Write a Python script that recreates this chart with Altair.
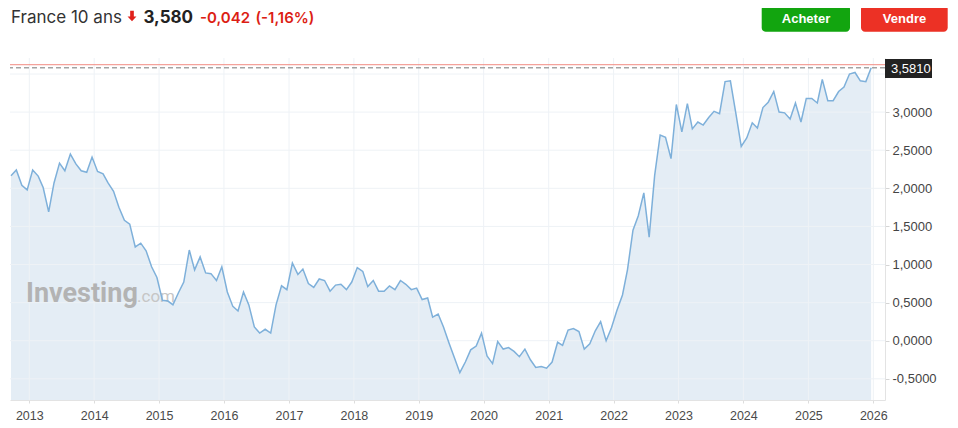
import altair as alt
import pandas as pd

# ---------------- data ----------------
first_point = pd.Timestamp("2012-09-20")   # first monthly observation
yields = [
    2.165, 2.24, 2.04, 1.98, 2.24, 2.16, 2.01, 1.69, 2.07, 2.33,
    2.23, 2.45, 2.32, 2.23, 2.21, 2.41, 2.22, 2.19, 2.07, 1.96,
    1.75, 1.58, 1.53, 1.23, 1.28, 1.18, 0.97, 0.83, 0.53, 0.52,
    0.47, 0.63, 0.77, 1.19, 0.93, 1.10, 0.89, 0.88, 0.79, 0.97,
    0.64, 0.45, 0.39, 0.64, 0.47, 0.18, 0.10, 0.15, 0.10, 0.47,
    0.72, 0.67, 1.02, 0.87, 0.94, 0.75, 0.70, 0.81, 0.79, 0.65,
    0.73, 0.74, 0.67, 0.77, 0.96, 0.91, 0.71, 0.79, 0.65, 0.65,
    0.72, 0.67, 0.79, 0.74, 0.67, 0.69, 0.54, 0.56, 0.31, 0.35,
    0.18, -0.03, -0.22, -0.42, -0.28, -0.12, -0.07, 0.10, -0.20, -0.30,
    -0.01, -0.11, -0.09, -0.14, -0.21, -0.11, -0.25, -0.35, -0.34, -0.36,
    -0.28, -0.02, -0.06, 0.14, 0.16, 0.12, -0.11, -0.04, 0.13, 0.25,
    0.00, 0.17, 0.40, 0.60, 0.93, 1.45, 1.64, 1.94, 1.36, 2.17,
    2.70, 2.67, 2.39, 3.10, 2.74, 3.11, 2.78, 2.87, 2.83, 2.93,
    3.01, 2.98, 3.40, 3.41, 2.98, 2.55, 2.66, 2.86, 2.79, 3.06,
    3.13, 3.27, 3.00, 2.99, 2.91, 3.12, 2.87, 3.18, 3.18, 3.12,
    3.43, 3.15, 3.15, 3.27, 3.33, 3.50, 3.52, 3.41, 3.40, 3.581,
]
year_ticks = list(range(2013, 2027))
y_grid = [-0.5, 0.0, 0.5, 1.0, 1.5, 2.0, 2.5, 3.0, 3.5]
y_labels = [-0.5, 0.0, 0.5, 1.0, 1.5, 2.0, 2.5, 3.0]
last_value = 3.581
prev_close = 3.622
header_name = "France 10 ans"
header_price = "3,580"
header_change = "-0,042"
header_pct = "(-1,16%)"
badge_text = "3,5810"

# ---------------- build ----------------
W, H = 875, 342
Y_MIN, Y_MAX = -0.778, 3.71
dates = [(first_point + pd.DateOffset(months=i)).strftime("%Y-%m-%d") for i in range(len(yields))]
df = pd.DataFrame({"date": dates, "value": yields})
grid_x_df = pd.DataFrame({"date": [f"{y}-01-01" for y in year_ticks]})
grid_y_df = pd.DataFrame({"value": y_grid})
one = pd.DataFrame({"k": [0]})

x_scale = alt.Scale(
    type="utc",
    domain=[alt.DateTime(year=2012, month=9, date=14, hours=10, utc=True),
            alt.DateTime(year=2026, month=3, date=7, hours=19, utc=True)],
)
y_scale = alt.Scale(domain=[Y_MIN, Y_MAX], nice=False, zero=False)

LABEL_FONT = "Liberation Sans"

x_axis = alt.Axis(
    values=[alt.DateTime(year=y, month=1, date=1, utc=True) for y in year_ticks],
    labelExpr="utcFormat(datum.value, '%Y')",
    grid=False, title=None,
    domainColor="#e3e3e3", tickColor="#dddddd", tickSize=3,
    labelFont=LABEL_FONT, labelFontSize=12.5, labelColor="#4a4a4a",
    labelPadding=6, labelFlush=False,
)
y_axis = alt.Axis(
    orient="right", values=y_labels, grid=False, title=None,
    labelExpr="(datum.value < 0 ? '-' : '') + replace(format(abs(datum.value), '.4f'), '.', ',')",
    domainColor="#e3e3e3", tickColor="#d5d5d5", tickSize=4,
    labelFont=LABEL_FONT, labelFontSize=13, labelColor="#444444", labelPadding=3,
)

X = alt.X("date:T", scale=x_scale, axis=x_axis)
Y = alt.Y("value:Q", scale=y_scale, axis=y_axis)

area = alt.Chart(df).mark_area(color="#78a5cd", opacity=0.2).encode(
    x=X, y=Y, y2=alt.datum(Y_MIN),
)

grid_h = alt.Chart(grid_y_df).mark_rule(color="#eef2f6", strokeWidth=1).encode(y=Y)
grid_v = alt.Chart(grid_x_df).mark_rule(color="#eef2f6", strokeWidth=1).encode(x=X)

watermark1 = alt.Chart(one).mark_text(
    align="left", baseline="alphabetic", font="Roboto", fontWeight="bold",
    fontSize=27, color="#b3b3b3"
).encode(x=alt.value(16), y=alt.value(243.5), text=alt.value("Investing"))
watermark2 = alt.Chart(one).mark_text(
    align="left", baseline="alphabetic", font="Roboto", fontSize=17, color="#c6c6c6"
).encode(x=alt.value(127), y=alt.value(243.5), text=alt.value(".com"))

line = alt.Chart(df).mark_line(color="#7eb0da", strokeWidth=1.5).encode(x=X, y=Y)

red_rule = alt.Chart(one).mark_rule(color="#f28b82", strokeWidth=1).encode(
    y=alt.datum(prev_close)
)
dash_rule = alt.Chart(one).mark_rule(color="#777777", strokeWidth=1, strokeDash=[5, 3]).encode(
    y=alt.datum(last_value)
)

badge = alt.Chart(one).mark_rect(color="#222222").encode(
    x=alt.value(875), x2=alt.value(922), y=alt.value(1), y2=alt.value(20)
)
badge_lbl = alt.Chart(one).mark_text(
    align="left", baseline="middle", font=LABEL_FONT, fontSize=13, color="#ffffff"
).encode(x=alt.value(881), y=alt.value(10.5), text=alt.value(badge_text))

HY = -40
t_name = alt.Chart(one).mark_text(
    align="left", baseline="middle", font="Inter", fontSize=17, color="#333333"
).encode(x=alt.value(1), y=alt.value(HY), text=alt.value(header_name))
arrow = alt.Chart(one).mark_point(
    shape="M-0.35,-1L0.35,-1L0.35,0.1L0.85,0.1L0,1L-0.85,0.1L-0.35,0.1Z",
    filled=True, color="#e0201b", size=110, opacity=1, strokeWidth=0
).encode(x=alt.value(122), y=alt.value(HY - 2))
t_price = alt.Chart(one).mark_text(
    align="left", baseline="middle", font="Inter", fontSize=17, fontWeight="bold", color="#222222"
).encode(x=alt.value(133.5), y=alt.value(HY), text=alt.value(header_price))
t_chg = alt.Chart(one).mark_text(
    align="left", baseline="middle", font="Inter", fontSize=15, fontWeight=600, color="#dc1e14"
).encode(x=alt.value(190), y=alt.value(HY), text=alt.value(header_change))
t_pct = alt.Chart(one).mark_text(
    align="left", baseline="middle", font="Inter", fontSize=15, fontWeight=600, color="#dc1e14"
).encode(x=alt.value(245.5), y=alt.value(HY), text=alt.value(header_pct))

btn_buy = alt.Chart(one).mark_rect(color="#12a50f", cornerRadius=4).encode(
    x=alt.value(751.7), x2=alt.value(840), y=alt.value(-53), y2=alt.value(-26.3)
)
btn_sell = alt.Chart(one).mark_rect(color="#ec3125", cornerRadius=4).encode(
    x=alt.value(851), x2=alt.value(937.7), y=alt.value(-53), y2=alt.value(-26.3)
)
btn_buy_t = alt.Chart(one).mark_text(
    align="center", baseline="middle", font=LABEL_FONT, fontSize=13, fontWeight="bold", color="#ffffff"
).encode(x=alt.value(796), y=alt.value(-39.5), text=alt.value("Acheter"))
btn_sell_t = alt.Chart(one).mark_text(
    align="center", baseline="middle", font=LABEL_FONT, fontSize=13, fontWeight="bold", color="#ffffff"
).encode(x=alt.value(894.5), y=alt.value(-39.5), text=alt.value("Vendre"))

chart = alt.layer(
    area, grid_h, grid_v, watermark1, watermark2, line, red_rule, dash_rule,
    badge, badge_lbl, t_name, arrow, t_price, t_chg, t_pct,
    btn_buy, btn_sell, btn_buy_t, btn_sell_t,
).properties(
    width=W, height=H,
    autosize=alt.AutoSizeParams(type="none"),
    padding={"left": 2, "top": 50, "right": 65, "bottom": 28},
    background="#ffffff",
).configure_view(stroke=None)

chart.save("out.html", embed_options={"renderer": "svg", "actions": False})
